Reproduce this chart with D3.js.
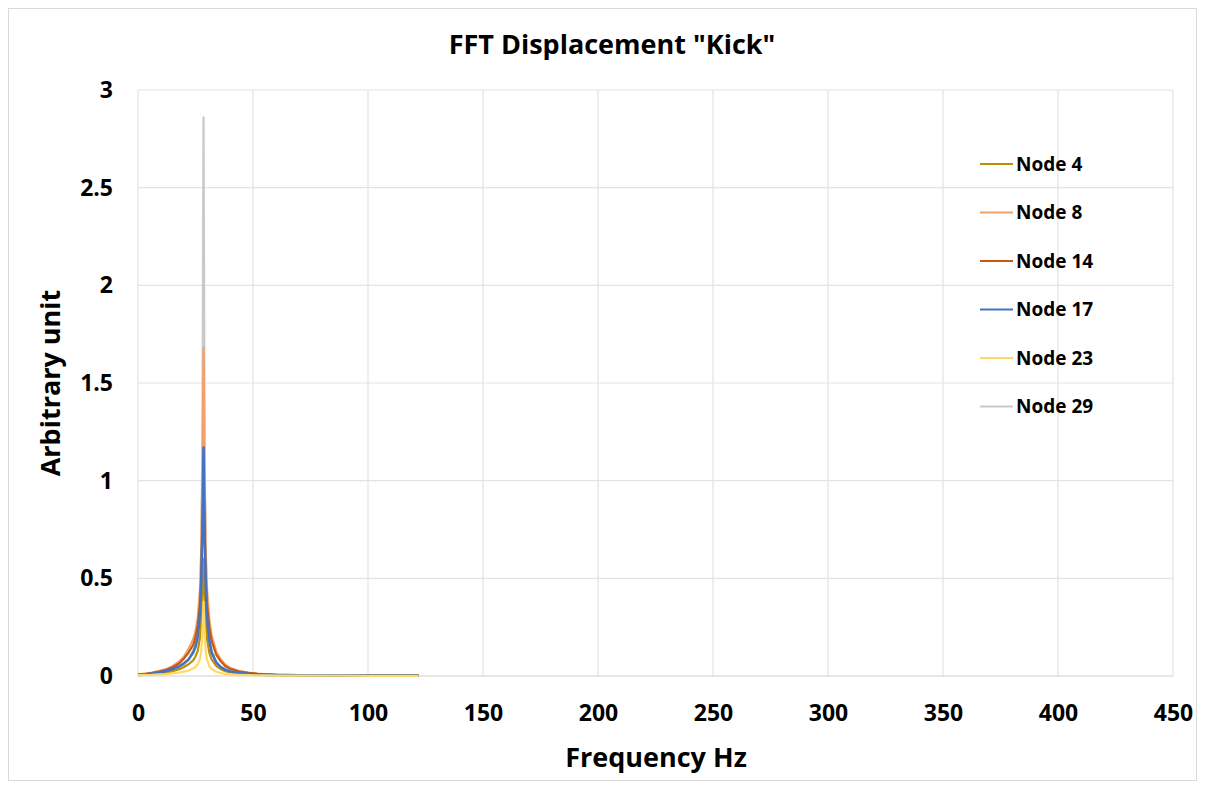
<!DOCTYPE html>
<html>
<head>
<meta charset="utf-8">
<script src="https://cdn.jsdelivr.net/npm/d3@7"></script>
<style>
    body { margin: 0; background: #fff; }
    text { font-family: "Open Sans", "DejaVu Sans", sans-serif; font-weight: 700; fill: #000; }
</style>
</head>
<body>
<div id="chart"></div>
<script>
// frequencies (Hz) shared by all nodes
var freq = [0, 3, 6, 9, 12, 15, 18, 20, 22, 24, 25, 26, 27, 27.5, 28, 28.5, 29, 29.5, 30, 31, 32, 34, 36, 38, 40, 44, 48, 52, 56, 60, 70, 80, 90, 100, 110, 122];

var node4  = [0.004, 0.006, 0.009, 0.012, 0.017, 0.024, 0.035, 0.046, 0.06, 0.08, 0.1, 0.13, 0.2, 0.28, 0.42, 0.6, 0.4, 0.27, 0.19, 0.12, 0.085, 0.052, 0.035, 0.025, 0.019, 0.012, 0.009, 0.007, 0.005, 0.004, 0.003, 0.003, 0.002, 0.002, 0.002, 0.002];
var node8  = [0.008, 0.012, 0.018, 0.025, 0.035, 0.05, 0.075, 0.1, 0.14, 0.19, 0.23, 0.3, 0.45, 0.65, 1.05, 1.68, 1.0, 0.62, 0.45, 0.29, 0.21, 0.125, 0.085, 0.058, 0.042, 0.026, 0.017, 0.012, 0.009, 0.007, 0.005, 0.004, 0.003, 0.003, 0.002, 0.002];
var node14 = [0.007, 0.01, 0.015, 0.022, 0.03, 0.045, 0.065, 0.09, 0.12, 0.16, 0.2, 0.26, 0.38, 0.52, 0.75, 1.0, 0.72, 0.5, 0.37, 0.25, 0.18, 0.11, 0.075, 0.05, 0.037, 0.023, 0.016, 0.011, 0.008, 0.006, 0.005, 0.004, 0.003, 0.002, 0.002, 0.002];
var node17 = [0.005, 0.008, 0.012, 0.018, 0.025, 0.035, 0.05, 0.065, 0.085, 0.12, 0.15, 0.2, 0.32, 0.48, 0.75, 1.17, 0.7, 0.45, 0.3, 0.18, 0.12, 0.07, 0.045, 0.032, 0.024, 0.015, 0.011, 0.008, 0.006, 0.005, 0.004, 0.003, 0.003, 0.002, 0.002, 0.002];
var node23 = [0.004, 0.005, 0.006, 0.008, 0.01, 0.013, 0.018, 0.022, 0.028, 0.038, 0.046, 0.06, 0.09, 0.13, 0.22, 0.38, 0.2, 0.12, 0.085, 0.05, 0.036, 0.022, 0.015, 0.011, 0.009, 0.006, 0.004, 0.003, 0.003, 0.002, 0.002, 0.002, 0.002, 0.001, 0.001, 0.001];
var node29 = [0.005, 0.006, 0.008, 0.012, 0.018, 0.028, 0.045, 0.06, 0.085, 0.13, 0.17, 0.24, 0.42, 0.65, 1.2, 2.86, 1.1, 0.6, 0.38, 0.2, 0.13, 0.07, 0.045, 0.032, 0.024, 0.015, 0.011, 0.008, 0.006, 0.005, 0.004, 0.003, 0.003, 0.002, 0.002, 0.002];

var seriesNames = ["Node 4", "Node 8", "Node 14", "Node 17", "Node 23", "Node 29"];
var seriesColors = ["#bf8f00", "#f4a06a", "#c55a11", "#4472c4", "#ffd966", "#c9c9c9"];
var seriesValues = [node4, node8, node14, node17, node23, node29];
// draw order: grey node at the back
var drawOrder = [5, 0, 1, 2, 3, 4];

var xTicks = [0, 50, 100, 150, 200, 250, 300, 350, 400, 450];
var yTicks = [0, 0.5, 1, 1.5, 2, 2.5, 3];

var svgWidth = 1206;
var svgHeight = 789;
var margin = { top: 90, right: 33, bottom: 113, left: 138 };
var chart_width = svgWidth - margin.left - margin.right;
var chart_height = svgHeight - margin.top - margin.bottom;

var svg = d3.select("#chart")
    .append("svg")
    .attr("width", svgWidth)
    .attr("height", svgHeight);

// outer chart border
svg.append("rect")
    .attr("x", 8.5).attr("y", 8.5)
    .attr("width", 1188).attr("height", 772)
    .attr("fill", "#fff")
    .attr("stroke", "#d9d9d9");

var chartGroup = svg.append("g")
    .attr("transform", `translate(${margin.left}, ${margin.top})`);

var xScale = d3.scaleLinear().domain([0, 450]).range([0, chart_width]);
var yScale = d3.scaleLinear().domain([0, 3]).range([chart_height, 0]);

// gridlines
chartGroup.append("g")
    .selectAll("line")
    .data(xTicks)
    .enter()
    .append("line")
    .attr("x1", d => xScale(d)).attr("x2", d => xScale(d))
    .attr("y1", 0).attr("y2", chart_height)
    .attr("stroke", "#e3e3e3")
    .attr("stroke-width", 1.2);

chartGroup.append("g")
    .selectAll("line")
    .data(yTicks)
    .enter()
    .append("line")
    .attr("x1", 0).attr("x2", chart_width)
    .attr("y1", d => yScale(d)).attr("y2", d => yScale(d))
    .attr("stroke", d => d === 0 ? "#d0d0d0" : "#e3e3e3")
    .attr("stroke-width", 1.2);

// axes (labels only)
var bottomAxis = d3.axisBottom(xScale).tickValues(xTicks).tickSize(0).tickPadding(29);
var leftAxis = d3.axisLeft(yScale).tickValues(yTicks).tickSize(0).tickPadding(25).tickFormat(d3.format("~g"));

var gx = chartGroup.append("g")
    .attr("transform", `translate(0, ${chart_height})`)
    .call(bottomAxis);
var gy = chartGroup.append("g").call(leftAxis);

[gx, gy].forEach(function(g) {
    g.select(".domain").remove();
    g.selectAll("text")
        .attr("font-size", 23)
        .attr("font-family", "'Open Sans', sans-serif")
        .attr("font-weight", 700)
        .attr("fill", "#000");
});

// lines
var line = d3.line()
    .x((d, i) => xScale(freq[i]))
    .y(d => yScale(d));

chartGroup.append("g")
    .selectAll("path")
    .data(drawOrder)
    .enter()
    .append("path")
    .attr("d", k => line(seriesValues[k]))
    .attr("fill", "none")
    .attr("stroke", k => seriesColors[k])
    .attr("stroke-width", k => k === 3 ? 2.6 : 2.2)
    .attr("stroke-linejoin", "round");

// title and axis titles
svg.append("text")
    .attr("x", 612).attr("y", 54)
    .attr("text-anchor", "middle")
    .attr("font-size", 27)
    .text('FFT Displacement "Kick"');

svg.append("text")
    .attr("x", 656).attr("y", 767)
    .attr("text-anchor", "middle")
    .attr("font-size", 27)
    .text("Frequency Hz");

svg.append("text")
    .attr("transform", "translate(60, 383) rotate(-90)")
    .attr("text-anchor", "middle")
    .attr("font-size", 27)
    .text("Arbitrary unit");

// legend
var legend = svg.append("g")
    .attr("transform", "translate(980, 164)");

var items = legend.selectAll("g")
    .data(seriesNames)
    .enter()
    .append("g")
    .attr("transform", (d, i) => `translate(0, ${i * 48.5})`);

items.append("line")
    .attr("x1", 0).attr("x2", 33)
    .attr("y1", 0).attr("y2", 0)
    .attr("stroke", (d, i) => seriesColors[i])
    .attr("stroke-width", 2);

items.append("text")
    .attr("x", 36).attr("y", 0)
    .attr("dy", "0.35em")
    .attr("font-size", 19)
    .text(d => d);
</script>
</body>
</html>
